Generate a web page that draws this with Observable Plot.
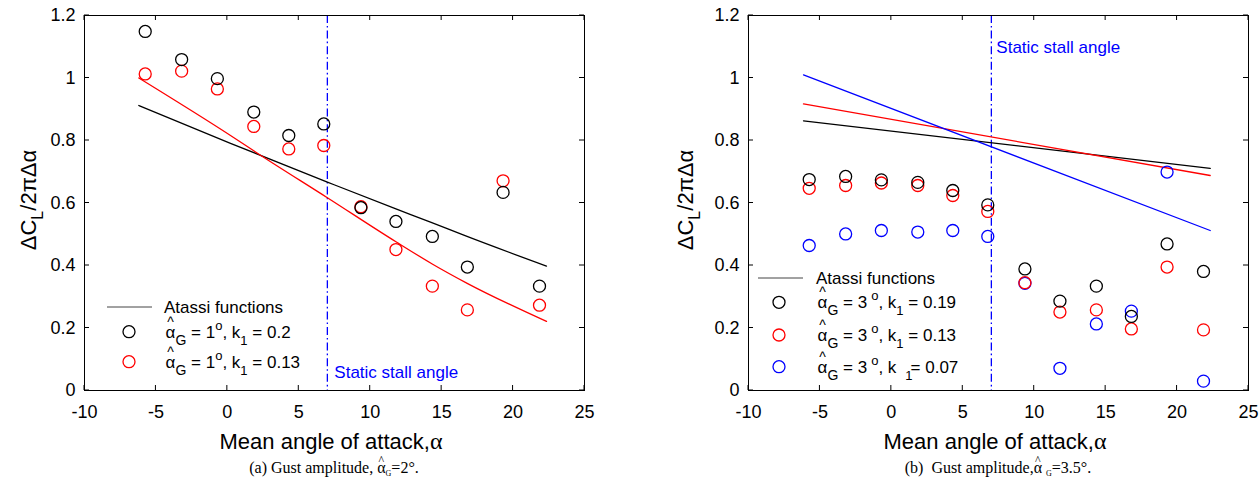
<!DOCTYPE html>
<html><head><meta charset="utf-8">
<script src="https://cdn.jsdelivr.net/npm/d3@7"></script>
<script src="https://cdn.jsdelivr.net/npm/@observablehq/plot@0.6"></script>
<style>
body{margin:0;background:#fff;width:1260px;height:478px;overflow:hidden;font-family:"Liberation Sans",Arial,sans-serif;}
#wrap{position:relative;width:1260px;height:478px;}
.panel{position:absolute;top:0;width:630px;height:478px;}
.panel svg{position:absolute;left:0;top:0;overflow:visible;}
.cap{position:absolute;top:459px;width:600px;text-align:center;font-family:"Liberation Serif","Times New Roman",serif;font-size:16px;line-height:18px;white-space:pre;color:#000;}
.hat{position:relative;display:inline-block;}
.hat::before{content:"^";position:absolute;left:0;right:0;top:-8px;text-align:center;font-size:12px;}
.cap sub{font-size:8px;vertical-align:-3px;line-height:0;}
</style></head>
<body><div id="wrap"></div>
<script>
// ---------- data ----------
const xTicks = [-10, -5, 0, 5, 10, 15, 20, 25];
const yTicks = [0, 0.2, 0.4, 0.6, 0.8, 1, 1.2];
const stallAngle = 7;

// mean angle of attack of the measurements
const alphaMean = [-5.75, -3.2, -0.7, 1.85, 4.3, 6.75, 9.35, 11.8, 14.35, 16.8, 19.3, 21.85];

// panel (a): gust amplitude 2 deg
const aK020 = [1.149, 1.059, 0.998, 0.891, 0.816, 0.853, 0.585, 0.541, 0.493, 0.395, 0.634, 0.334];
const aK013 = [1.013, 1.022, 0.965, 0.845, 0.773, 0.784, 0.588, 0.451, 0.334, 0.258, 0.671, 0.273];
const aAtassiK020X = [-6.2, 0.22, 7, 11.8, 14.22, 16.55, 22.34];
const aAtassiK020Y = [0.912, 0.791, 0.667, 0.581, 0.539, 0.497, 0.398];
const aAtassiK013X = [-6.2, 0.22, 2.32, 7, 11.8, 14.34, 16.79, 22.34];
const aAtassiK013Y = [1.0, 0.816, 0.753, 0.617, 0.476, 0.405, 0.343, 0.221];

// panel (b): gust amplitude 3.5 deg
const bK019 = [0.675, 0.685, 0.674, 0.666, 0.640, 0.594, 0.389, 0.286, 0.334, 0.237, 0.469, 0.381];
const bK013 = [0.647, 0.656, 0.664, 0.656, 0.624, 0.573, 0.345, 0.251, 0.258, 0.197, 0.395, 0.194];
const bK007 = [0.464, 0.501, 0.512, 0.507, 0.512, 0.493, 0.343, 0.071, 0.213, 0.254, 0.699, 0.030];
const bAtassiX = [-6.15, 22.32];
const bAtassiK019Y = [0.863, 0.711];
const bAtassiK013Y = [0.917, 0.688];
const bAtassiK007Y = [1.010, 0.512];

const stallLabel = "Static stall angle";
const xLabel = "Mean angle of attack,";
const legendLine = "Atassi functions";

const FONT = '"Liberation Sans", Arial, Helvetica, sans-serif';
const pts = (xs, ys) => xs.map((x, i) => ({x, y: ys[i]}));

function buildPanel(cfg) {
  const fmt = d => String(d);
  const marks = [
    Plot.ruleX([stallAngle], {stroke: "#0000ff", strokeWidth: 1.3, strokeDasharray: "8,3,1.6,3"}),
    Plot.text([stallAngle], {x: d => d, y: () => cfg.stallY, text: () => stallLabel, dx: cfg.stallDx,
      textAnchor: "start", fill: "#0000ff", fontSize: 17}),
  ];
  for (const ln of cfg.lines) {
    marks.push(Plot.line(pts(ln.x, ln.y), {x: "x", y: "y", stroke: ln.color, strokeWidth: 1.3, curve: ln.curve || "linear"}));
  }
  for (const s of cfg.series) {
    marks.push(Plot.dot(pts(alphaMean, s.y), {x: "x", y: "y", r: 6, stroke: s.color, fill: "none", strokeWidth: 1.3}));
  }
  marks.push(
    Plot.axisX(xTicks, {anchor: "bottom", tickSize: 0, tickPadding: 15, tickFormat: fmt, label: null}),
    Plot.axisY(yTicks, {anchor: "left", tickSize: 0, tickPadding: 9, tickFormat: fmt, label: null}),
    Plot.frame({stroke: "#000", strokeWidth: 1})
  );
  return Plot.plot({
    width: 630, height: 455,
    marginLeft: cfg.marginLeft, marginRight: cfg.marginRight, marginTop: 15, marginBottom: 65,
    x: {domain: [-10, 25], label: null},
    y: {domain: [0, 1.2], label: null},
    style: {fontFamily: FONT, fontSize: "18px", color: "#000", background: "transparent"},
    marks
  });
}

function addRich(g, x, y, parts, size) {
  const t = g.append("text").attr("x", x).attr("y", y).attr("font-size", size)
    .attr("font-family", FONT).attr("fill", "#000").attr("text-anchor", "start");
  for (const p of parts) {
    const ts = t.append("tspan").text(p.t).attr("font-size", p.size || size);
    if (p.dx) ts.attr("dx", p.dx);
    if (p.dy) ts.attr("dy", p.dy);
  }
  return t;
}

function legendRow(g, x, y, deg, k, kAlt) {
  const parts = [
    {t: "^", size: 14, dx: 1.6, dy: -11},
    {t: "α", dx: -8.2, dy: 11},
    {t: "G", size: 14, dy: 7},
    {t: " = " + deg, dy: -7},
  ];
  if (deg === "3") parts.push({t: "o", size: 13, dy: -8, dx: 4});
  else parts.push({t: "o", size: 13, dy: -8});
  parts.push({t: ", k", dy: 8});
  if (kAlt) {
    parts.push({t: "1", size: 13, dy: 7, dx: 9});
    parts.push({t: "= " + k, dy: -7, dx: -2});
  } else {
    parts.push({t: "1", size: 13, dy: 7});
    parts.push({t: " = " + k, dy: -7});
  }
  addRich(g, x, y, parts, 17);
}

function decorate(svg, cfg) {
  const X = svg.scale("x"), Y = svg.scale("y");
  const fl = X.apply(-10), fr = X.apply(25), ft = Y.apply(1.2), fb = Y.apply(0);
  const g = d3.select(svg).append("g").attr("text-anchor", "start");
  // inward ticks on all four sides (box style)
  const tk = 5;
  for (const v of xTicks) {
    const px = X.apply(v);
    g.append("line").attr("x1", px).attr("x2", px).attr("y1", fb).attr("y2", fb - tk).attr("stroke", "#000");
    g.append("line").attr("x1", px).attr("x2", px).attr("y1", ft).attr("y2", ft + tk).attr("stroke", "#000");
  }
  for (const v of yTicks) {
    const py = Y.apply(v);
    g.append("line").attr("x1", fl).attr("x2", fl + tk).attr("y1", py).attr("y2", py).attr("stroke", "#000");
    g.append("line").attr("x1", fr).attr("x2", fr - tk).attr("y1", py).attr("y2", py).attr("stroke", "#000");
  }
  // x label
  const xl = g.append("text").attr("x", (fl + fr) / 2 - 3).attr("y", 449).attr("text-anchor", "middle")
    .attr("font-size", 22).attr("font-family", FONT).attr("fill", "#000").text(xLabel);
  xl.append("tspan").attr("font-family", '"Liberation Serif", "Times New Roman", serif').attr("font-size", 24).text("α");
  // y label
  const yl = g.append("text").attr("transform", `translate(${cfg.ylabelX},200) rotate(-90)`)
    .attr("text-anchor", "middle").attr("font-size", 22).attr("font-family", FONT).attr("fill", "#000");
  yl.append("tspan").text("ΔC");
  yl.append("tspan").attr("font-size", 16).attr("dy", 7).text("L");
  yl.append("tspan").attr("dy", -7).text("/2πΔα");
  // legend
  const L = cfg.legend;
  g.append("line").attr("x1", fl + L.lineX0).attr("x2", fl + L.lineX1).attr("y1", L.rows[0]).attr("y2", L.rows[0])
    .attr("stroke", "#444").attr("stroke-width", 1);
  g.append("text").attr("x", fl + L.textX).attr("y", L.rows[0] + 6).attr("font-size", 17)
    .attr("font-family", FONT).attr("fill", "#000").attr("text-anchor", "start").text(legendLine);
  L.entries.forEach((e, i) => {
    const cy = L.rows[i + 1];
    g.append("circle").attr("cx", fl + L.markX).attr("cy", cy).attr("r", 6)
      .attr("fill", "none").attr("stroke", e.color).attr("stroke-width", 1.3);
    legendRow(g, fl + L.textX, cy + 6, e.deg, e.k, e.alt);
  });
}

const wrap = document.getElementById("wrap");

const panels = [
  {
    left: 0, marginLeft: 84, marginRight: 46, ylabelX: 36, stallY: 0.058, stallDx: 7, capLeft: 34,
    lines: [
      {x: aAtassiK020X, y: aAtassiK020Y, color: "#000000", curve: "monotone-x"},
      {x: aAtassiK013X, y: aAtassiK013Y, color: "#ff0000", curve: "monotone-x"}
    ],
    series: [{y: aK013, color: "#ff0000"}, {y: aK020, color: "#000000"}],
    legend: {lineX0: 23, lineX1: 68, markX: 45, textX: 80, rows: [307, 331.7, 361.7],
      entries: [{color: "#000", deg: "1", k: "0.2"}, {color: "#ff0000", deg: "1", k: "0.13"}]},
    caption: '(a) Gust amplitude, <span class="hat">α</span><sub>G</sub>=2°.'
  },
  {
    left: 630, marginLeft: 118, marginRight: 12, ylabelX: 63, stallY: 1.098, stallDx: 5, capLeft: 68,
    lines: [
      {x: bAtassiX, y: bAtassiK019Y, color: "#000000"},
      {x: bAtassiX, y: bAtassiK013Y, color: "#ff0000"},
      {x: bAtassiX, y: bAtassiK007Y, color: "#0000ff"}
    ],
    series: [{y: bK007, color: "#0000ff"}, {y: bK013, color: "#ff0000"}, {y: bK019, color: "#000000"}],
    legend: {lineX0: 10, lineX1: 55, markX: 31, textX: 68, rows: [278, 302.3, 335, 366.7],
      entries: [{color: "#000", deg: "3", k: "0.19"}, {color: "#ff0000", deg: "3", k: "0.13"},
                {color: "#0000ff", deg: "3", k: "0.07", alt: true}]},
    caption: '(b)  Gust amplitude,<span class="hat">α</span> <sub>G</sub>=3.5°.'
  }
];

for (const cfg of panels) {
  const div = document.createElement("div");
  div.className = "panel";
  div.style.left = cfg.left + "px";
  const svg = buildPanel(cfg);
  div.appendChild(svg);
  decorate(svg, cfg);
  const cap = document.createElement("div");
  cap.className = "cap";
  cap.style.left = cfg.capLeft + "px";
  cap.innerHTML = cfg.caption;
  div.appendChild(cap);
  wrap.appendChild(div);
}
</script></body></html>
